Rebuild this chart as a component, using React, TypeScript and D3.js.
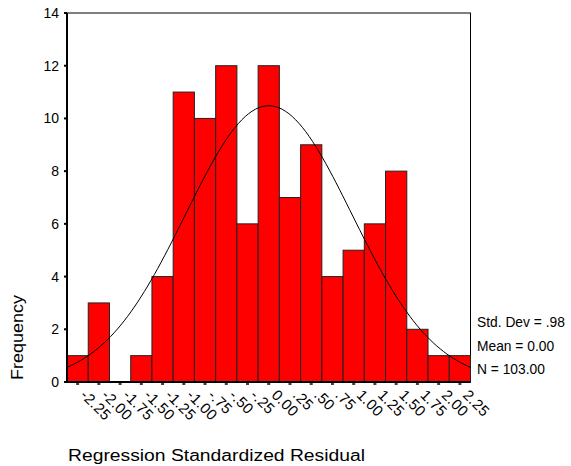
import { useEffect } from "react";
import { scaleLinear, line, curveLinear } from "d3";

const binLabels = [
  "-2.25", "-2.00", "-1.75", "-1.50", "-1.25", "-1.00", "-.75", "-.50", "-.25",
  "0.00", ".25", ".50", ".75", "1.00", "1.25", "1.50", "1.75", "2.00", "2.25",
];
const binCenters = [
  -2.25, -2.0, -1.75, -1.5, -1.25, -1.0, -0.75, -0.5, -0.25,
  0, 0.25, 0.5, 0.75, 1.0, 1.25, 1.5, 1.75, 2.0, 2.25,
];
const counts = [1, 3, 0, 1, 4, 11, 10, 12, 6, 12, 7, 9, 4, 5, 6, 8, 2, 1, 1];
const yTicks = [0, 2, 4, 6, 8, 10, 12, 14];
const stats = ["Std. Dev = .98", "Mean = 0.00", "N = 103.00"];
const stdDev = 0.98;
const mean = 0;
const n = 103;
const binWidth = 0.25;

const font = "'Liberation Sans', Arial, Helvetica, sans-serif";

export default function App() {
  useEffect(() => {
    document.body.style.margin = "0";
  }, []);

  const width = 571;
  const height = 466;
  const margin = { top: 13, left: 67, right: 100.5, bottom: 84 };

  const x = scaleLinear()
    .domain([-2.375, 2.375])
    .range([margin.left, width - margin.right]);
  const y = scaleLinear()
    .domain([0, 14])
    .range([height - margin.bottom, margin.top]);

  const bw = x(binWidth) - x(0);

  // fitted normal curve from the stats shown on the chart
  const peak = (n * binWidth) / (stdDev * Math.sqrt(2 * Math.PI));
  const curvePts: [number, number][] = [];
  for (let i = 0; i <= 120; i++) {
    const v = -2.375 + (4.75 * i) / 120;
    const z = (v - mean) / stdDev;
    curvePts.push([v, peak * Math.exp(-0.5 * z * z)]);
  }
  const curvePath = line<[number, number]>()
    .x((d) => x(d[0]))
    .y((d) => y(d[1]))
    .curve(curveLinear)(curvePts);

  const x0 = x.range()[0];
  const x1 = x.range()[1];
  const y0 = y.range()[0];
  const yTop = y.range()[1];

  return (
    <svg width={width} height={height} style={{ display: "block" }} fontFamily={font}>
      <rect x={0} y={0} width={width} height={height} fill="#fff" />
      {/* frame */}
      <rect x={x0} y={yTop} width={x1 - x0} height={y0 - yTop} fill="none" stroke="#000" strokeWidth={1} />

      {counts.map((c, i) =>
        c > 0 ? (
          <rect
            key={i}
            x={x(binCenters[i]) - bw / 2}
            y={y(c)}
            width={bw}
            height={y(0) - y(c)}
            fill="#ff0000"
            stroke="#222"
            strokeWidth={1}
          />
        ) : null
      )}

      <path d={curvePath ?? ""} fill="none" stroke="#000" strokeWidth={1} />

      {/* axes */}
      <line x1={x0} x2={x0} y1={yTop} y2={y0 + 1} stroke="#000" strokeWidth={2} />
      <line x1={x0 - 1} x2={x1} y1={y0} y2={y0} stroke="#000" strokeWidth={2} />

      {yTicks.map((t) => (
        <g key={t}>
          <line x1={x0 - 3} x2={x0} y1={y(t)} y2={y(t)} stroke="#000" strokeWidth={2} />
          <text x={x0 - 8} y={y(t)} dy="0.36em" textAnchor="end" fontSize={14} fill="#000">
            {t}
          </text>
        </g>
      ))}

      {binCenters.map((v, i) => (
        <g key={i}>
          <line x1={x(v) - 1.5} x2={x(v) + 1.5} y1={y0 + 2} y2={y0 + 2} stroke="#000" strokeWidth={1.5} />
          <text
            transform={`translate(${x(v) + 2},${y0 + 14}) rotate(45)`}
            fontSize={15}
            letterSpacing={0.3}
            fill="#000"
          >
            {binLabels[i]}
          </text>
        </g>
      ))}

      {stats.map((s, i) => (
        <text key={s} x={477} y={327 + i * 23.5} fontSize={13.8} fill="#000">
          {s}
        </text>
      ))}

      <text
        transform="translate(23,380) rotate(-90)"
        fontSize={16}
        textLength={85}
        lengthAdjust="spacingAndGlyphs"
        fill="#000"
      >
        Frequency
      </text>
      <text x={68} y={460.5} fontSize={16} textLength={297} lengthAdjust="spacingAndGlyphs" fill="#000">
        Regression Standardized Residual
      </text>
    </svg>
  );
}
